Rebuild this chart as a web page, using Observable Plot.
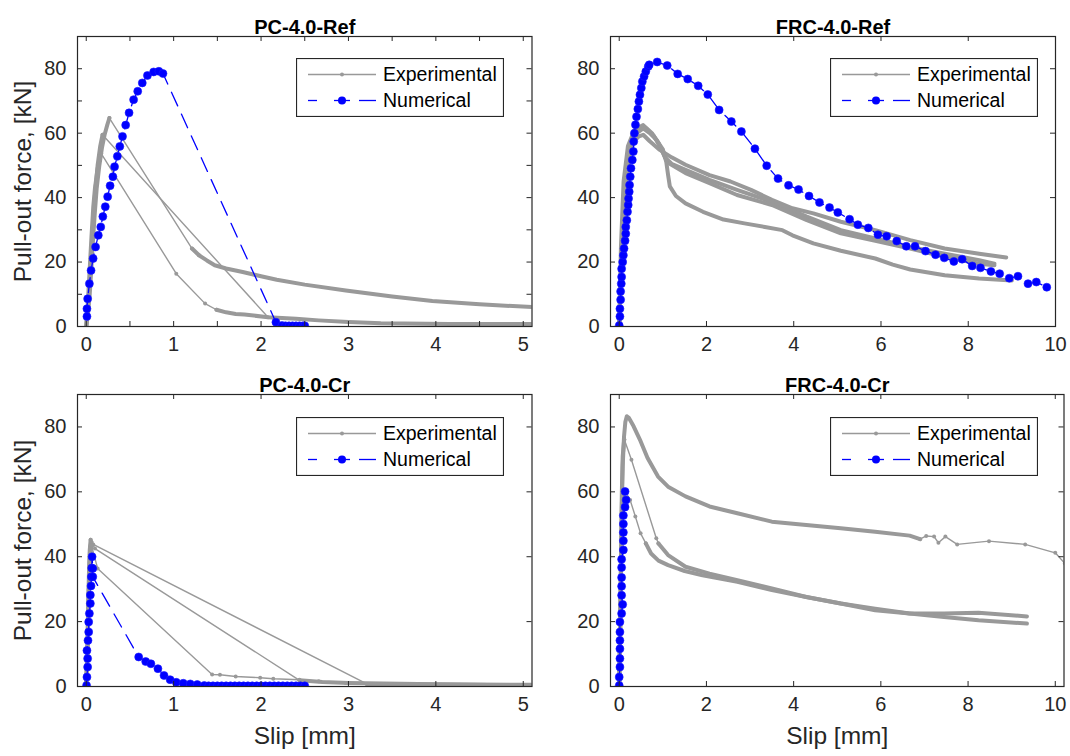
<!DOCTYPE html>
<html><head><meta charset="utf-8">
<script src="https://cdn.jsdelivr.net/npm/d3@7"></script>
<script src="https://cdn.jsdelivr.net/npm/@observablehq/plot@0.6"></script>
<style>
body{margin:0;background:#fff;}
#wrap{position:relative;width:1070px;height:756px;overflow:hidden;font-family:"Liberation Sans",Arial,Helvetica,sans-serif;}
.panel{position:absolute;}
</style></head><body><div id="wrap"></div>
<script>
// ---------------- DATA ----------------
const titles = ["PC-4.0-Ref", "FRC-4.0-Ref", "PC-4.0-Cr", "FRC-4.0-Cr"];
const yLabelText = "Pull-out force, [kN]";
const xLabelText = "Slip [mm]";
const legendLabels = ["Experimental", "Numerical"];

const yTicks = [0, 20, 40, 60, 80];
const yTicksMinorPcRef = [0, 10, 20, 30, 40, 50, 60, 70, 80];
const xTicksPc = [0, 1, 2, 3, 4, 5];
const xTicksMinorPcRef = [0, 0.5, 1, 1.5, 2, 2.5, 3, 3.5, 4, 4.5, 5];
const xTicksFrc = [0, 2, 4, 6, 8, 10];

// PC-4.0-Ref
const pcRefNum = [[0.008,3.1],[0.008,5.5],[0.016,8.6],[0.036,13.3],[0.055,17.4],[0.079,21.1],[0.107,24.7],[0.138,28.3],[0.166,30.9],[0.19,34.1],[0.218,37.2],[0.245,40.3],[0.273,43.7],[0.305,46.5],[0.324,49.6],[0.356,52.8],[0.384,55.9],[0.415,59.0],[0.451,62.5],[0.49,66.3],[0.542,70.4],[0.589,73.0],[0.641,75.6],[0.70,77.9],[0.771,79.0],[0.831,79.2],[0.878,78.5],[2.17,1.35],[2.24,0.3],[2.28,0.2],[2.32,0.2],[2.36,0.2],[2.40,0.2],[2.44,0.2],[2.48,0.2],[2.5,0.2]];
const pcRefExpDense = [
  [[0,0],[0.02,4],[0.04,10],[0.06,19],[0.08,28],[0.10,36],[0.12,43],[0.15,50],[0.18,55.5],[0.21,59.5],[0.24,62.5],[0.265,64.7]],
  [[0,0],[0.02,6],[0.04,14],[0.06,24],[0.08,33],[0.10,41],[0.13,50],[0.16,56],[0.186,59.5]],
  [[0,0],[0.02,8],[0.04,18],[0.06,28],[0.08,37],[0.10,43],[0.13,49],[0.17,53.7]],
  [[1.21,24.2],[1.29,22.1],[1.38,20.5],[1.47,19.0],[1.6,18.0],[1.79,16.9],[2.0,15.6],[2.18,14.5],[2.5,13.0],[2.97,11.2],[3.5,9.3],[3.96,7.9],[4.5,6.9],[5.11,6.0]],
  [[1.49,5.2],[1.6,4.4],[1.71,3.9],[1.81,3.7],[2.08,2.9],[2.4,2.4],[2.66,1.9],[3.0,1.4],[3.37,1.0],[4.16,0.8],[5.11,0.8]]
];
const pcRefExpSparse = [
  [[0.265,64.7],[1.21,24.2],[1.29,22.1]],
  [[0.186,59.5],[2.08,2.9]],
  [[0.17,53.7],[1.03,16.4],[1.36,7.1],[1.49,5.2]]
];

// FRC-4.0-Ref
const frcRefNum = [[0.0,0.3],[0.016,3.1],[0.016,5.5],[0.032,8.3],[0.032,10.9],[0.047,13.3],[0.055,15.4],[0.055,17.9],[0.079,20.0],[0.095,22.1],[0.11,24.2],[0.134,26.6],[0.15,28.8],[0.15,30.9],[0.174,33.0],[0.19,35.6],[0.206,37.7],[0.214,39.7],[0.229,41.8],[0.237,43.9],[0.253,46.5],[0.269,49.1],[0.30,51.7],[0.324,54.3],[0.332,57.4],[0.348,60.0],[0.372,62.6],[0.396,65.1],[0.427,67.5],[0.451,69.8],[0.475,71.9],[0.506,74.0],[0.53,76.0],[0.57,77.6],[0.609,79.1],[0.665,80.7],[0.688,81.2],[0.87,82.1],[1.10,81.0],[1.34,78.4],[1.57,76.8],[1.81,74.7],[2.03,72.0],[2.29,67.2],[2.57,63.6],[2.80,60.5],[3.11,55.2],[3.38,49.9],[3.64,45.9],[3.88,43.8],[4.11,42.5],[4.35,40.5],[4.59,38.5],[4.82,36.9],[5.01,35.4],[5.28,33.3],[5.47,31.6],[5.71,30.6],[5.93,28.5],[6.13,28.0],[6.36,26.5],[6.58,24.9],[6.78,24.9],[7.02,23.4],[7.25,22.3],[7.45,21.3],[7.67,20.2],[7.86,20.9],[8.09,18.8],[8.28,18.2],[8.52,17.1],[8.72,16.4],[8.94,15.0],[9.14,15.6],[9.37,13.3],[9.56,13.8],[9.80,12.2]];
const frcRefExpDense = [
  [[0,0],[0.05,20],[0.1,38],[0.18,50],[0.3,57],[0.45,59],[0.55,59.5],[0.7,57.5],[0.93,54.8],[1.2,52.5],[1.52,50.2],[2.07,47.0],[2.55,45.0],[3.02,42.4],[3.5,39.3],[3.97,36.7],[4.45,35.1],[5.08,32.5],[5.87,29.9],[6.67,26.8],[7.46,24.2],[8.25,22.6],[8.87,21.4]],
  [[0,0],[0.05,22],[0.12,42],[0.22,54],[0.35,60],[0.5,62],[0.62,61.5],[0.8,59],[0.93,56],[1.05,52.5],[1.2,50.5],[1.52,48.6],[2.07,45.5],[2.7,42.4],[3.5,38.7],[4.3,34.1],[5.08,29.9],[5.87,27.3],[6.67,24.7],[7.46,22.6],[8.25,20.6],[8.6,19.5]],
  [[0,0],[0.04,25],[0.1,45],[0.2,56],[0.35,61],[0.55,62.5],[0.75,60],[0.9,57],[1.0,54],[1.1,51],[1.52,47.6],[2.07,44.5],[2.7,40.8],[3.5,37.7],[4.3,33.0],[5.08,28.9],[5.87,26.6],[6.67,24.2],[7.46,21.6],[8.25,19.5],[8.6,19.0]],
  [[0,0],[0.05,20],[0.12,40],[0.25,54],[0.4,60],[0.55,61.5],[0.7,60],[0.85,58],[1.0,55],[1.08,51],[1.12,47],[1.16,43.5],[1.3,40.5],[1.52,38.2],[1.92,35.6],[2.39,33.2],[2.87,32.0],[3.34,30.9],[3.74,29.9],[3.97,28.3],[4.45,25.8],[5.08,23.5],[5.87,21.1],[6.27,19.2],[6.67,17.7],[7.46,15.9],[8.25,14.9],[9.0,14.3]]
];
const frcRefExpSparse = [];

// PC-4.0-Cr
const pcCrNum = [[0.004,0.3],[0.008,2.9],[0.016,6.0],[0.016,8.6],[0.008,11.1],[0.02,14.2],[0.028,16.8],[0.028,19.9],[0.036,22.5],[0.047,25.6],[0.047,28.2],[0.055,31.0],[0.059,33.8],[0.063,36.5],[0.067,40.0],[0.075,36.4],[0.075,33.8],[0.60,9.1],[0.68,7.7],[0.74,7.0],[0.82,5.5],[0.89,3.4],[0.96,2.1],[1.03,1.3],[1.11,1.0],[1.19,0.8],[1.27,0.6],[1.35,0.3],[1.40,0.2],[1.45,0.2],[1.50,0.2],[1.55,0.2],[1.60,0.2],[1.65,0.2],[1.70,0.2],[1.75,0.2],[1.80,0.2],[1.85,0.2],[1.90,0.2],[1.95,0.2],[2.00,0.2],[2.05,0.2],[2.10,0.2],[2.15,0.2],[2.20,0.2],[2.25,0.2],[2.30,0.2],[2.35,0.2],[2.40,0.2],[2.45,0.2],[2.50,0.2]];
const pcCrExpDense = [
  [[0,0],[0.01,10],[0.02,22],[0.03,34],[0.04,42],[0.05,45.2]],
  [[0,0],[0.015,12],[0.025,25],[0.035,36],[0.045,43],[0.06,44.5]],
  [[0,0],[0.02,15],[0.03,30],[0.045,40],[0.06,43.5]],
  [[2.44,1.9],[2.7,1.4],[3.0,1.1],[3.4,0.9],[4.0,0.7],[5.11,0.5]],
  [[3.21,0.8],[3.6,0.7],[4.08,0.6],[4.6,0.5],[5.11,0.4]]
];
const pcCrExpSparse = [
  [[0.05,45.2],[0.08,43.8],[3.21,0.8]],
  [[0.06,44.5],[0.1,42.5],[2.44,1.9]],
  [[0.06,43.5],[0.13,36.4],[1.44,3.7],[1.53,3.6],[1.71,3.1],[1.99,2.7],[2.14,2.4],[2.44,2.1],[2.66,1.6],[2.97,1.1]]
];

// FRC-4.0-Cr
const frcCrNum = [[0,0.3],[0.0,2.9],[0.016,6.0],[0.016,8.6],[0.016,11.6],[0.016,14.2],[0.016,16.8],[0.016,19.9],[0.055,22.5],[0.079,25.3],[0.055,28.1],[0.055,30.9],[0.055,33.6],[0.055,36.7],[0.055,39.2],[0.095,42.1],[0.095,44.9],[0.095,47.5],[0.095,50.1],[0.095,52.7],[0.134,55.3],[0.158,57.5],[0.134,60.1]];
const frcCrExpDense = [
  [[0,0],[0.02,15],[0.04,35],[0.06,55],[0.08,68],[0.11,77],[0.14,81.5],[0.174,83.3],[0.22,82.8],[0.33,80.2],[0.49,75.6],[0.65,70.4],[0.89,64.7],[1.12,61.6],[1.52,58.6],[2.07,55.5],[2.71,53.4],[3.5,50.8],[4.29,49.8],[5.08,48.8],[5.87,47.7],[6.66,46.5],[6.9,45.4]],
  [[0,0],[0.02,18],[0.04,40],[0.06,60],[0.08,71],[0.115,76.2]],
  [[0.9,44.1],[1.12,40.5],[1.52,36.9],[2.07,34.8],[2.71,32.8],[3.5,30.2],[4.29,27.6],[5.08,25.6],[5.87,24.0],[6.66,22.5],[7.45,22.5],[8.24,22.7],[9.35,21.6]],
  [[0,0],[0.02,15],[0.04,35],[0.06,50],[0.09,58],[0.12,60.5]],
  [[0.61,44.1],[0.73,41.0],[0.9,38.8],[1.12,37.4],[1.5,35.6],[1.91,34.3],[2.71,32.3],[3.5,29.7],[4.29,27.6],[5.08,25.6],[5.87,23.5],[6.66,22.5],[7.45,21.4],[8.24,20.4],[9.35,19.4]]
];
const frcCrExpSparse = [
  [[6.9,45.4],[7.04,46.4],[7.22,46.2],[7.32,44.3],[7.48,46.2],[7.75,43.8],[8.48,44.8],[9.31,43.8],[10.0,41.2],[10.22,37.9]],
  [[0.115,76.2],[0.28,69.9],[0.85,45.7],[0.9,44.1]],
  [[0.12,60.5],[0.25,57.5],[0.37,52.4],[0.49,47.2],[0.61,44.1]]
];

// ---------------- DRAWING ----------------
const GRAY = "#999999", BLUE = "#0000ff", INK = "#262626";
const FONT = "'Liberation Sans', Arial, Helvetica, sans-serif";
const wrap = document.getElementById("wrap");

function panel(cfg) {
  const {box, frame, xDomain, xTicks, xMinor, yMinor, title, showY, showX, dense, sparse, num} = cfg;
  const [left, top, width, height] = box;
  const mL = frame[0] - left, mR = left + width - frame[1], mT = frame[2] - top, mB = top + height - frame[3];
  const fw = frame[1] - frame[0], fh = frame[3] - frame[2];
  const X = d => d[0], Y = d => d[1];
  const marks = [];
  for (const seg of dense) marks.push(Plot.line(seg, {x: X, y: Y, stroke: GRAY, strokeWidth: 4, strokeLinejoin: "round", strokeLinecap: "round", clip: true}));
  for (const seg of sparse) {
    marks.push(Plot.line(seg, {x: X, y: Y, stroke: GRAY, strokeWidth: 1.4, clip: true}));
    marks.push(Plot.dot(seg, {x: X, y: Y, r: 2, fill: GRAY, clip: true}));
  }
  marks.push(Plot.line(num, {x: X, y: Y, stroke: BLUE, strokeWidth: 1.3, strokeDasharray: "15,9", clip: true}));
  marks.push(Plot.dot(num, {x: X, y: Y, r: 4, fill: BLUE, stroke: "#1a1aff", strokeWidth: 0.6, clip: true}));
  // inward ticks on all four sides
  marks.push(Plot.tickX(xMinor, {x: d => d, insetTop: fh - 5, stroke: INK}));
  marks.push(Plot.tickX(xMinor, {x: d => d, insetBottom: fh - 5, stroke: INK}));
  marks.push(Plot.tickY(yMinor, {y: d => d, insetRight: fw - 5, stroke: INK}));
  marks.push(Plot.tickY(yMinor, {y: d => d, insetLeft: fw - 5, stroke: INK}));
  marks.push(Plot.frame({stroke: INK, strokeWidth: 1.2}));
  // tick labels
  marks.push(Plot.text(xTicks, {x: d => d, frameAnchor: "bottom", dy: 24, text: d => String(d), fontSize: 20, fill: INK}));
  marks.push(Plot.text(yTicks, {y: d => d, frameAnchor: "left", dx: -11, textAnchor: "end", text: d => String(d), fontSize: 20, fill: INK}));
  marks.push(Plot.text([title], {frameAnchor: "top", dy: -17, textAnchor: "middle", text: d => d, fontSize: 20, fontWeight: "bold", fill: "#000"}));
  if (showY) marks.push(Plot.text([yLabelText], {frameAnchor: "left", dx: -54, rotate: -90, textAnchor: "middle", text: d => d, fontSize: 24.5, fill: INK}));
  if (showX) marks.push(Plot.text([xLabelText], {frameAnchor: "bottom", dy: 57, textAnchor: "middle", text: d => d, fontSize: 24.5, fill: INK}));

  const chart = Plot.plot({
    width, height, marginLeft: mL, marginRight: mR, marginTop: mT, marginBottom: mB,
    x: {domain: xDomain, axis: null},
    y: {domain: [0, 90], axis: null},
    style: {fontFamily: FONT, background: "transparent", overflow: "visible"},
    marks
  });
  const div = document.createElement("div");
  div.className = "panel";
  div.style.left = left + "px"; div.style.top = top + "px";
  div.appendChild(chart);
  wrap.appendChild(div);
}

function legend(left, top) {
  const W = 207, H = 58;
  const svg = d3.select(wrap).append("svg")
    .attr("width", W + 1).attr("height", H + 1)
    .style("position", "absolute").style("left", left + "px").style("top", top + "px")
    .style("font-family", FONT);
  svg.append("rect").attr("x", 0.5).attr("y", 0.5).attr("width", W).attr("height", H)
    .attr("fill", "#fff").attr("stroke", INK).attr("stroke-width", 1.2);
  const r1 = 16.5, r2 = 42.5;
  svg.append("line").attr("x1", 12).attr("x2", 80).attr("y1", r1).attr("y2", r1).attr("stroke", GRAY).attr("stroke-width", 1.4);
  svg.append("circle").attr("cx", 46).attr("cy", r1).attr("r", 2).attr("fill", GRAY);
  for (const [a, b] of [[12, 21], [38, 54], [63, 80]])
    svg.append("line").attr("x1", a).attr("x2", b).attr("y1", r2).attr("y2", r2).attr("stroke", BLUE).attr("stroke-width", 1.3);
  svg.append("circle").attr("cx", 46).attr("cy", r2).attr("r", 4).attr("fill", BLUE);
  svg.selectAll("text.lab").data(legendLabels).join("text")
    .attr("x", 87).attr("y", (d, i) => i ? r2 : r1).attr("dy", "0.35em")
    .attr("font-size", 19.5).attr("fill", "#000").text(d => d);
}

panel({box: [0, 0, 540, 370], frame: [77, 531.5, 36, 326], xDomain: [-0.1, 5.1], xTicks: xTicksPc, xMinor: xTicksMinorPcRef, yMinor: yTicksMinorPcRef,
  title: titles[0], showY: true, showX: false, dense: pcRefExpDense, sparse: pcRefExpSparse, num: pcRefNum});
panel({box: [540, 0, 530, 370], frame: [610, 1055, 36, 326], xDomain: [-0.2, 10], xTicks: xTicksFrc, xMinor: xTicksFrc, yMinor: yTicks,
  title: titles[1], showY: false, showX: false, dense: frcRefExpDense, sparse: frcRefExpSparse, num: frcRefNum});
panel({box: [0, 370, 540, 386], frame: [77, 531.5, 394, 686], xDomain: [-0.1, 5.1], xTicks: xTicksPc, xMinor: xTicksPc, yMinor: yTicks,
  title: titles[2], showY: true, showX: true, dense: pcCrExpDense, sparse: pcCrExpSparse, num: pcCrNum});
panel({box: [540, 370, 530, 386], frame: [610, 1063.5, 394, 686], xDomain: [-0.2, 10.2], xTicks: xTicksFrc, xMinor: xTicksFrc, yMinor: yTicks,
  title: titles[3], showY: false, showX: true, dense: frcCrExpDense, sparse: frcCrExpSparse, num: frcCrNum});

legend(296, 58);
legend(830, 58);
legend(296, 417);
legend(830, 417);
</script></body></html>
